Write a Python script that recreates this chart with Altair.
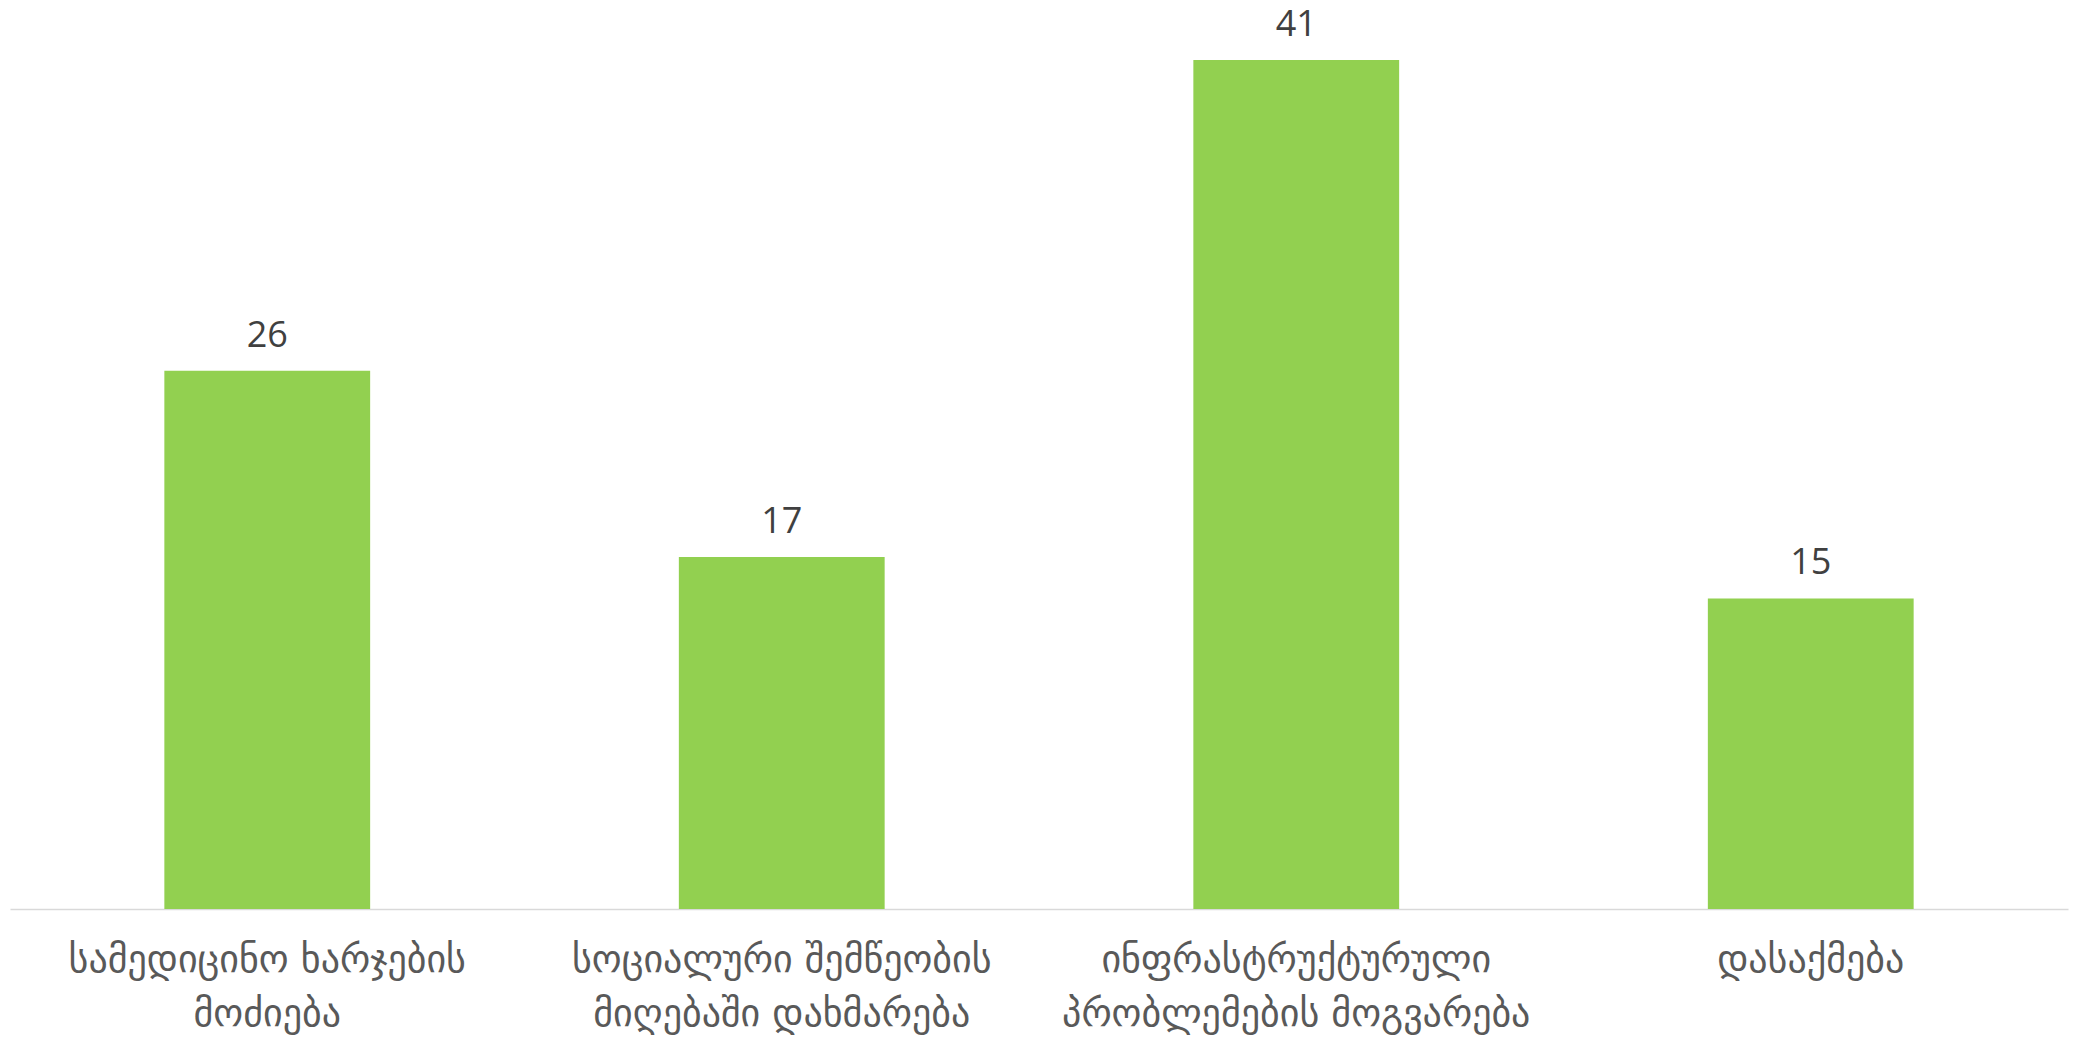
import altair as alt
import pandas as pd

categories = [
    "სამედიცინო ხარჯების\nმოძიება",
    "სოციალური შემწეობის\nმიღებაში დახმარება",
    "ინფრასტრუქტურული\nპრობლემების მოგვარება",
    "დასაქმება",
]
values = [26, 17, 41, 15]

df = pd.DataFrame({"category": categories, "value": values})

x = alt.X(
    "category:N",
    sort=categories,
    title=None,
    scale=alt.Scale(paddingInner=0.6, paddingOuter=0.3),
    axis=alt.Axis(
        labelAngle=0,
        labelExpr="split(datum.label, '\\n')",
        labelFont="DejaVu Sans",
        labelFontSize=38,
        labelColor="#595959",
        labelLineHeight=54,
        labelPadding=32,
        labelBaseline="top",
        labelLimit=0,
        ticks=False,
        domainColor="#d9d9d9",
        domainWidth=1.5,
        grid=False,
    ),
)
y = alt.Y(
    "value:Q",
    title=None,
    scale=alt.Scale(domain=[0, 42.5], nice=False, zero=True),
    axis=None,
)

bars = alt.Chart(df).mark_bar(color="#92d050").encode(x=x, y=y)
labels = alt.Chart(df).mark_text(
    baseline="bottom", dy=-16, font="Open Sans", fontSize=36, color="#404040"
).encode(x=alt.X("category:N", sort=categories), y="value:Q", text="value:Q")

chart = (
    alt.layer(bars, labels)
    .properties(
        width=2058,
        height=880,
        autosize=alt.AutoSizeParams(type="none"),
        padding={"left": 2, "top": 21, "right": 17, "bottom": 138},
        background="white",
    )
    .configure_view(strokeWidth=0, stroke="transparent")
)

chart.save("out.html", embed_options={"renderer": "svg", "actions": False})
